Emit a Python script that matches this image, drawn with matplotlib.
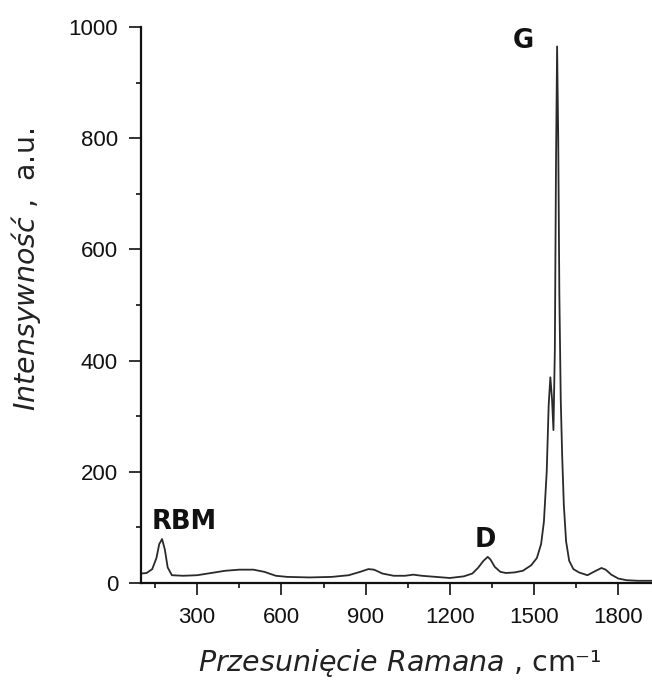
import matplotlib
matplotlib.use("Agg")
import matplotlib.pyplot as plt
from matplotlib.ticker import MultipleLocator, FixedLocator

plt.rcParams['font.family'] = ['Liberation Sans', 'DejaVu Sans']
plt.rcParams['mathtext.fontset'] = 'custom'
plt.rcParams['mathtext.rm'] = 'DejaVu Sans'
plt.rcParams['mathtext.it'] = 'DejaVu Sans:italic'

# Raman shift (cm^-1) and intensity (a.u.)
shift = [100, 120, 140, 155, 165, 175, 185, 195, 210, 250, 300, 350, 400, 450,
         500, 540, 580, 620, 700, 780, 840, 880, 910, 930, 960, 1000, 1040,
         1070, 1100, 1150, 1200, 1250, 1280, 1300, 1320, 1335, 1345, 1360,
         1380, 1400, 1430, 1460, 1490, 1510, 1525, 1535, 1545, 1552, 1558,
         1564, 1569, 1574, 1578, 1582, 1586, 1590, 1595, 1600, 1606, 1614,
         1625, 1640, 1660, 1690, 1720, 1740, 1755, 1775, 1800, 1830, 1870, 1920]
intensity = [17, 18, 25, 45, 70, 79, 60, 28, 14, 13, 14, 18, 22, 24,
             24, 20, 13, 11, 10, 11, 14, 20, 25, 24, 17, 13, 13,
             15, 13, 11, 9, 12, 17, 27, 40, 47, 42, 29,
             20, 18, 19, 22, 32, 45, 70, 110, 200, 320, 370,
             330, 275, 420, 750, 965, 800, 520, 330, 230, 140, 75,
             40, 25, 19, 14, 22, 27, 24, 15, 8, 5, 4, 4]

peak_labels = ["RBM", "D", "G"]
peak_label_x = [254, 1325, 1461]
peak_label_y = [110, 77, 975]

x_ticks = [300, 600, 900, 1200, 1500, 1800]
x_minor = [150, 450, 750, 1050, 1350, 1650]
y_ticks = [0, 200, 400, 600, 800, 1000]

fig = plt.figure(figsize=(6.52, 6.82), dpi=100)
ax = fig.add_axes([141/652, 99/682, 511/652, 556/682])

ax.plot(shift, intensity, color='#2a2a2a', lw=1.3)

for t, x, y in zip(peak_labels, peak_label_x, peak_label_y):
    ax.text(x, y, t, ha='center', va='center', fontsize=18.5,
            fontweight='bold', family='DejaVu Sans', color='#111111')

ax.set_xlim(100, 1920)
ax.set_ylim(0, 1000)
ax.set_xticks(x_ticks)
ax.set_yticks(y_ticks)
ax.xaxis.set_minor_locator(FixedLocator(x_minor))
ax.yaxis.set_minor_locator(MultipleLocator(100))
ax.spines['top'].set_visible(False)
ax.spines['right'].set_visible(False)
for s in ['left', 'bottom']:
    ax.spines[s].set_linewidth(1.6)
    ax.spines[s].set_color('#111111')
ax.tick_params(which='major', length=8.5, width=1.2, labelsize=16, colors='#111111')
ax.tick_params(which='minor', length=3.5, width=1.2, colors='#111111')
ax.tick_params(axis='y', which='major', pad=8)
ax.tick_params(axis='x', which='major', pad=9)

ax.set_xlabel(r"$\it{Przesunięcie\ Ramana}$ , cm⁻¹", fontsize=20.5,
              family='DejaVu Sans', color='#222222')
ax.xaxis.set_label_coords((400 - 141) / 511, (583 - 663) / 556)
ax.xaxis.label.set_verticalalignment('center')

ax.set_ylabel(r"$\it{Intensywność}$ ,  a.u.", fontsize=20.5,
              family='DejaVu Sans', color='#222222')
ax.yaxis.set_label_coords((26 - 141) / 511, (583 - 269) / 556)
ax.yaxis.label.set_verticalalignment('center')
ax.yaxis.label.set_horizontalalignment('center')

fig.savefig("out.png", dpi=100)
